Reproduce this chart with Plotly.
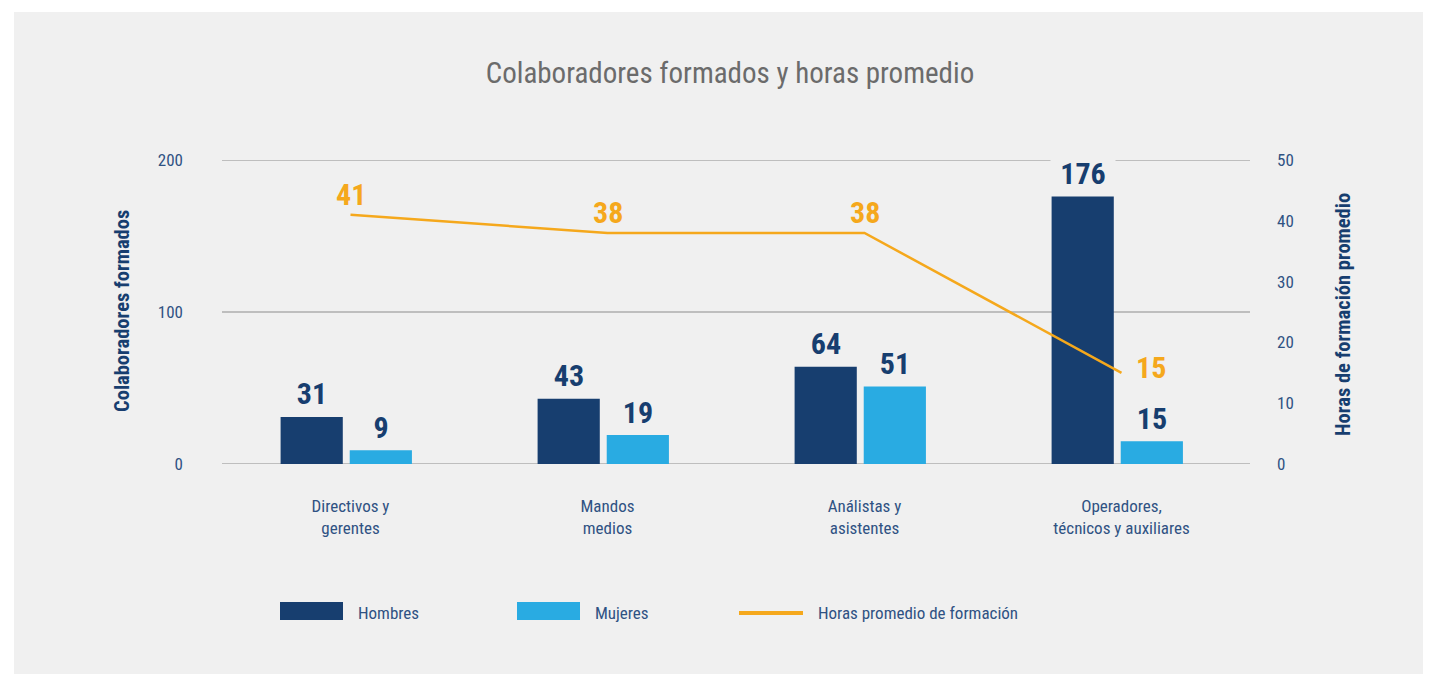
import plotly.graph_objects as go

# ---------------- data ----------------
categories = ["Directivos y<br>gerentes", "Mandos<br>medios",
              "Análistas y<br>asistentes", "Operadores,<br>técnicos y auxiliares"]
hombres = [31, 43, 64, 176]
mujeres = [9, 19, 51, 15]
horas = [41, 38, 38, 15]
series_names = ["Hombres", "Mujeres", "Horas promedio de formación"]
title_text = "Colaboradores formados y horas promedio"
y1_title = "Colaboradores formados"
y2_title = "Horas de formación promedio"
y1_ticks = [0, 100, 200]
y2_ticks = [0, 10, 20, 30, 40, 50]

# ---------------- style ----------------
OFF = 8  # page body margin
W, H = 1431 - OFF, 674 - OFF
ML = 222 - OFF
MT = 160 - OFF
PW = 1250 - 222
PH = 464 - 160
MR = W - ML - PW
MB = H - MT - PH
BG = "#f0f0f0"
DARK = "#173e6f"
LIGHT = "#29abe2"
ORANGE = "#f5a81c"
TICK = "#2f5283"
GRID = "#8c8c8c"
FONT = "Roboto Condensed, Liberation Sans Narrow, DejaVu Sans Condensed, Arial Narrow, sans-serif"
BAR_W = 0.242
OFFS = (-0.272, -0.003)
CAT_PX = PW / len(categories)


def px(x):
    # reference page x -> paper coordinate
    return (x - OFF - ML) / PW


def py(y):
    # reference page y -> paper coordinate
    return (MT + PH - (y - OFF)) / PH


fig = go.Figure()
fig.add_trace(go.Bar(x=categories, y=hombres, name=series_names[0], width=BAR_W, offset=OFFS[0],
                     marker=dict(color=DARK, line=dict(width=0)), showlegend=False))
fig.add_trace(go.Bar(x=categories, y=mujeres, name=series_names[1], width=BAR_W, offset=OFFS[1],
                     marker=dict(color=LIGHT, line=dict(width=0)), showlegend=False))
fig.add_trace(go.Scatter(x=categories, y=horas, name=series_names[2], yaxis="y2",
                         mode="lines", line=dict(color=ORANGE, width=2.5),
                         showlegend=False))

annotations = []
for vals, off in ((hombres, OFFS[0]), (mujeres, OFFS[1])):
    shift = (off + BAR_W / 2) * CAT_PX
    for c, v in zip(categories, vals):
        annotations.append(dict(x=c, y=v, xref="x", yref="y", text=f"<b>{v}</b>",
                                showarrow=False, xshift=shift, yshift=23, yanchor="middle",
                                font=dict(family=FONT, size=30, color=DARK),
                                bgcolor=BG, borderpad=0, width=64))
for i, (c, v) in enumerate(zip(categories, horas)):
    last = i == len(horas) - 1
    annotations.append(dict(x=c, y=v, xref="x", yref="y2", text=f"<b>{v}</b>",
                            showarrow=False, xshift=29 if last else 0,
                            yshift=5 if last else 20, yanchor="middle",
                            font=dict(family=FONT, size=30, color=ORANGE)))

# axis titles
annotations.append(dict(x=px(122), y=py(311), xref="paper", yref="paper", text=f"<b>{y1_title}</b>",
                        textangle=-90, showarrow=False, xanchor="center", yanchor="middle",
                        font=dict(family=FONT, size=20.5, color=DARK)))
annotations.append(dict(x=px(1343), y=py(315), xref="paper", yref="paper", text=f"<b>{y2_title}</b>",
                        textangle=-90, showarrow=False, xanchor="center", yanchor="middle",
                        font=dict(family=FONT, size=20.5, color=DARK)))

shapes = [
    dict(type="rect", xref="paper", yref="paper", x0=px(14), x1=px(1445), y0=py(700), y1=py(12),
         fillcolor=BG, line=dict(width=0), layer="below"),
]
# horizontal gridlines
for t in y1_ticks:
    shapes.append(dict(type="line", xref="paper", yref="y", x0=0, x1=1, y0=t, y1=t,
                       line=dict(color=GRID, width=1), layer="below"))
# custom legend
shapes += [
    dict(type="rect", xref="paper", yref="paper", x0=px(280), x1=px(343), y0=py(620), y1=py(602),
         fillcolor=DARK, line=dict(width=0)),
    dict(type="rect", xref="paper", yref="paper", x0=px(517), x1=px(580), y0=py(620), y1=py(602),
         fillcolor=LIGHT, line=dict(width=0)),
    dict(type="line", xref="paper", yref="paper", x0=px(739), x1=px(803), y0=py(613), y1=py(613),
         line=dict(color=ORANGE, width=4)),
]
for name, xs in zip(series_names, [356, 593, 816]):
    annotations.append(dict(x=px(xs), y=py(613), xref="paper", yref="paper", text=name,
                            showarrow=False, xanchor="left", yanchor="middle",
                            font=dict(family=FONT, size=17, color=TICK)))

fig.update_layout(
    width=W, height=H,
    margin=dict(l=ML, r=MR, t=MT, b=MB, autoexpand=False),
    paper_bgcolor="white", plot_bgcolor=BG,
    barmode="overlay",
    title=dict(text=title_text, x=(730 - OFF) / W, xanchor="center",
               y=1 - (73 - OFF) / H, yanchor="middle",
               font=dict(family=FONT, size=29, color="#6b6b6b")),
    font=dict(family=FONT, size=17, color=TICK),
    xaxis=dict(type="category", showgrid=False, showline=False, zeroline=False,
               ticks="", ticklabelstandoff=30, tickfont=dict(family=FONT, size=17, color=TICK)),
    yaxis=dict(range=[0, 200], tickvals=y1_ticks, showgrid=False,
               zeroline=False, showline=False, ticks="", ticklabelstandoff=38,
               tickfont=dict(family=FONT, size=17, color=TICK)),
    yaxis2=dict(range=[0, 50], tickvals=y2_ticks, overlaying="y", side="right", showgrid=False,
                zeroline=False, showline=False, ticks="", ticklabelstandoff=26,
                tickfont=dict(family=FONT, size=17, color=TICK)),
    annotations=annotations,
    shapes=shapes,
    showlegend=False,
)

fig.write_html("out.html")
